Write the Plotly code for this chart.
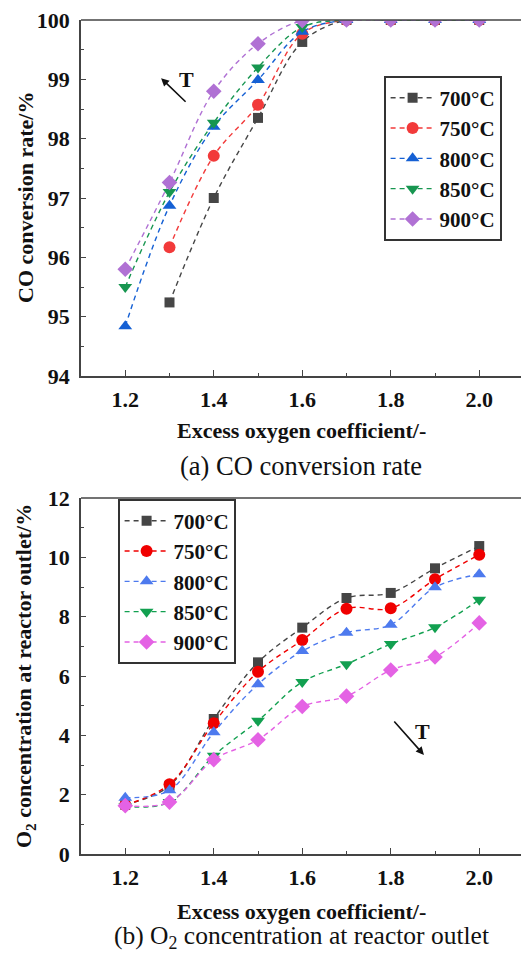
import plotly.graph_objects as go

x_vals = [1.2, 1.3, 1.4, 1.5, 1.6, 1.7, 1.8, 1.9, 2.0]
series_names = ["700°C", "750°C", "800°C", "850°C", "900°C"]

co_700 = [None, 95.24, 97.00, 98.35, 99.63, 100, 100, 100, 100]
co_750 = [None, 96.17, 97.71, 98.57, 99.77, 100, 100, 100, 100]
co_800 = [94.84, 96.87, 98.20, 98.99, 99.80, 100, 100, 100, 100]
co_850 = [95.50, 97.10, 98.27, 99.20, 99.88, 100, 100, 100, 100]
co_900 = [95.80, 97.26, 98.80, 99.60, 99.99, 100, 100, 100, 100]

o2_700 = [1.66, 2.30, 4.55, 6.46, 7.63, 8.63, 8.80, 9.63, 10.38]
o2_750 = [1.65, 2.35, 4.41, 6.14, 7.21, 8.27, 8.28, 9.26, 10.09]
o2_800 = [1.90, 2.15, 4.10, 5.72, 6.84, 7.46, 7.73, 8.99, 9.43]
o2_850 = [1.60, 1.75, 3.31, 4.49, 5.80, 6.40, 7.08, 7.64, 8.57]
o2_900 = [1.63, 1.75, 3.18, 3.85, 4.97, 5.32, 6.20, 6.64, 7.79]

co_series = [co_700, co_750, co_800, co_850, co_900]
o2_series = [o2_700, o2_750, o2_800, o2_850, o2_900]

symbols = ["square", "circle", "triangle-up", "triangle-down", "diamond"]
sizes = [10, 12, 12, 12, 12]
colors_a = ["#464646", "#F23A3A", "#1560D4", "#179650", "#B071D4"]
colors_b = ["#454545", "#F00000", "#4D7AEE", "#12A050", "#E462E4"]

SERIF = "Liberation Serif"
AX = "#444444"
W, H = 521, 953

fig = go.Figure()

for name, ys, sym, sz, col in zip(series_names, co_series, symbols, sizes, colors_a):
    fig.add_trace(go.Scatter(
        x=x_vals, y=ys, name=name, mode="lines+markers",
        line=dict(color=col, width=1.4, dash="5px,4px", shape="spline", smoothing=1),
        marker=dict(symbol=sym, size=sz, color=col),
        xaxis="x", yaxis="y", legend="legend", connectgaps=False,
    ))

for name, ys, sym, sz, col in zip(series_names, o2_series, symbols, sizes, colors_b):
    fig.add_trace(go.Scatter(
        x=x_vals, y=ys, name=name, mode="lines+markers",
        line=dict(color=col, width=1.4, dash="5px,4px", shape="spline", smoothing=1),
        marker=dict(symbol=sym, size=sz, color=col),
        xaxis="x2", yaxis="y2", legend="legend2",
    ))

top_dom = [1 - 376 / H, 1 - 20 / H]
bot_dom = [1 - 854 / H, 1 - 498 / H]
xrange_ = [1.1, 1.1 + 440 / 442.5]

tickfont = dict(family=SERIF, size=22, color="#111111", weight="bold")

def xaxis_cfg(anchor):
    return dict(
        domain=[0, 1], range=xrange_, anchor=anchor,
        tickmode="linear", tick0=1.2, dtick=0.2, tickformat=".1f",
        ticks="inside", ticklen=6, tickwidth=1.4, tickcolor=AX,
        minor=dict(ticks="inside", ticklen=3, dtick=0.1, tick0=1.2, tickcolor=AX, tickwidth=1.2),
        showline=True, linecolor=AX, linewidth=1.6, mirror=False,
        showgrid=False, zeroline=False, tickfont=tickfont, ticklabelstandoff=3,
        automargin=False,
    )

def yaxis_cfg(anchor, dom, rng, dt, mdt):
    return dict(
        domain=dom, range=rng, anchor=anchor,
        tickmode="linear", tick0=rng[0], dtick=dt,
        ticks="inside", ticklen=5, tickwidth=1.4, tickcolor=AX,
        minor=dict(ticks="inside", ticklen=3, dtick=mdt, tick0=rng[0], tickcolor=AX, tickwidth=1.2),
        showline=True, linecolor=AX, linewidth=1.6, mirror=False,
        showgrid=False, zeroline=False, tickfont=tickfont, ticklabelstandoff=5,
        automargin=False,
    )

legfont = dict(family=SERIF, size=21, color="#111111", weight="bold")

fig.update_layout(
    width=W, height=H,
    margin=dict(l=81, r=0, t=0, b=0, autoexpand=False),
    paper_bgcolor="white", plot_bgcolor="white",
    xaxis=xaxis_cfg("y"),
    yaxis=yaxis_cfg("x", top_dom, [94, 100], 1, 0.5),
    xaxis2=xaxis_cfg("y2"),
    yaxis2=yaxis_cfg("x2", bot_dom, [0, 12], 2, 1),
    legend=dict(
        x=(384 - 81) / 440, y=1 - 76 / H, xanchor="left", yanchor="top",
        bordercolor="#333333", borderwidth=1.6, bgcolor="white",
        font=legfont, itemwidth=44, tracegroupgap=0,
    ),
    legend2=dict(
        x=(118 - 81) / 440, y=1 - 499 / H, xanchor="left", yanchor="top",
        bordercolor="#333333", borderwidth=1.6, bgcolor="white",
        font=legfont, itemwidth=44, tracegroupgap=0,
    ),
    showlegend=True,
)

for dom in (top_dom, bot_dom):
    fig.add_shape(type="line", xref="paper", yref="paper", x0=0, x1=1,
                  y0=dom[1], y1=dom[1], line=dict(color=AX, width=1.6))

title_font = dict(family=SERIF, size=22, color="#111111", weight="bold")
cap_font = dict(family=SERIF, size=26.5, color="#111111")
cap_font_b = dict(family=SERIF, size=25.5, color="#111111")

ann = []
ann.append(dict(text="Excess oxygen coefficient/-", xref="paper", yref="paper",
                x=0.5, y=1 - 430 / H, showarrow=False, font=title_font, yanchor="middle"))
ann.append(dict(text="Excess oxygen coefficient/-", xref="paper", yref="paper",
                x=0.5, y=1 - 911 / H, showarrow=False, font=title_font, yanchor="middle"))
ann.append(dict(text="CO conversion rate/%", xref="paper", yref="paper",
                x=(25 - 81) / 440, y=(top_dom[0] + top_dom[1]) / 2, textangle=-90,
                showarrow=False, font=title_font, xanchor="center", yanchor="middle"))
ann.append(dict(text="O<sub>2</sub> concentration at reactor outlet/%", xref="paper", yref="paper",
                x=(25 - 81) / 440, y=(bot_dom[0] + bot_dom[1]) / 2, textangle=-90,
                showarrow=False, font=title_font, xanchor="center", yanchor="middle"))
ann.append(dict(text="(a) CO conversion rate", xref="paper", yref="paper",
                x=0.5, y=1 - 466 / H, showarrow=False, font=cap_font, yanchor="middle"))
ann.append(dict(text="(b) O<sub>2</sub> concentration at reactor outlet", xref="paper", yref="paper",
                x=0.5, y=1 - 937 / H, showarrow=False, font=cap_font_b, yanchor="middle"))
ann.append(dict(x=1.281, y=99.02, xref="x", yref="y", ax=26, ay=25, text="",
                showarrow=True, arrowhead=2, arrowsize=1, arrowwidth=1.6, arrowcolor="#111111"))
ann.append(dict(x=1.3395, y=98.99, xref="x", yref="y", text="T", showarrow=False,
                font=title_font))
ann.append(dict(x=1.875, y=3.34, xref="x2", yref="y2", ax=-31, ay=-35, text="",
                showarrow=True, arrowhead=2, arrowsize=1, arrowwidth=1.6, arrowcolor="#111111"))
ann.append(dict(x=1.871, y=4.12, xref="x2", yref="y2", text="T", showarrow=False,
                font=title_font))

fig.update_layout(annotations=ann)

fig.write_html("out.html")
